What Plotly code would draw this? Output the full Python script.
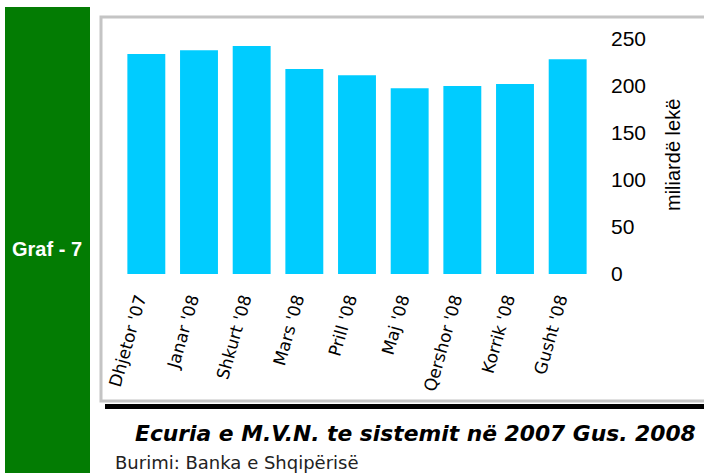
import plotly.graph_objects as go

W, H = 704, 473

months = ["Dhjetor '07", "Janar '08", "Shkurt '08", "Mars '08", "Prill '08",
          "Maj '08", "Qershor '08", "Korrik '08", "Gusht '08"]
values = [234, 238, 242.5, 218, 211.5, 197.5, 200, 202, 228.5]

y_ticks = [0, 50, 100, 150, 200, 250]

title_text = "Ecuria e M.V.N. te sistemit në 2007 Gus. 2008"
source_text = "Burimi: Banka e Shqipërisë"
side_label = "Graf - 7"
y_label = "miliardë lekë"


# pixel helpers -> paper coords (margins are zero so paper == page)
def px(x):
    return x / W


def py(y):
    return 1 - y / H


fig = go.Figure()
fig.add_trace(go.Bar(x=months, y=values, marker=dict(color="#00CCFF", line=dict(width=0))))

fig.update_layout(
    width=W, height=H, autosize=False,
    margin=dict(l=0, r=0, t=0, b=0, pad=0, autoexpand=False),
    paper_bgcolor="white", plot_bgcolor="white",
    showlegend=False,
    bargap=0.28,
    font=dict(family="Liberation Sans, Arial, sans-serif", color="black"),
    xaxis=dict(
        domain=[px(120), px(594)],
        anchor="y", automargin=False,
        showgrid=False, zeroline=False, showline=False,
        tickangle=-74,
        tickfont=dict(size=17, family="DejaVu Sans, sans-serif"),
        ticks="", ticklabelstandoff=11, ticklabelshift=-8,
    ),
    yaxis=dict(
        domain=[py(274), py(39)],
        anchor="x", automargin=False,
        side="right",
        range=[0, 250],
        tickvals=y_ticks,
        showgrid=False, zeroline=False, showline=False,
        tickfont=dict(size=21),
        ticks="", ticklabelstandoff=16,
    ),
)

# green side strip
fig.add_shape(type="rect", xref="paper", yref="paper",
              x0=px(5), x1=px(90), y0=py(473), y1=py(7),
              fillcolor="#037C03", line=dict(width=0), layer="below")
# grey frame round the chart
fig.add_shape(type="rect", xref="paper", yref="paper",
              x0=px(101), x1=px(710), y0=py(401), y1=py(17),
              fillcolor="rgba(0,0,0,0)", line=dict(color="#C4C4C4", width=3), layer="below")
# black rule under the chart
fig.add_shape(type="line", xref="paper", yref="paper",
              x0=px(105), x1=px(704), y0=py(406.5), y1=py(406.5),
              line=dict(color="black", width=5))

fig.add_annotation(text="<b>" + side_label + "</b>", xref="paper", yref="paper",
                   x=px(47), y=py(249), xanchor="center", yanchor="middle", showarrow=False,
                   font=dict(size=20, color="white"))
fig.add_annotation(text=y_label, xref="paper", yref="paper",
                   x=px(673), y=py(155), xanchor="center", yanchor="middle",
                   showarrow=False, textangle=-90,
                   font=dict(size=20))
fig.add_annotation(text="<b><i>" + title_text + "</i></b>", xref="paper", yref="paper",
                   x=px(133), y=py(433), xanchor="left", yanchor="middle", showarrow=False,
                   font=dict(size=21.8, family="DejaVu Sans, sans-serif"))
fig.add_annotation(text=source_text, xref="paper", yref="paper",
                   x=px(113), y=py(462), xanchor="left", yanchor="middle", showarrow=False,
                   font=dict(size=18, family="DejaVu Sans, sans-serif", color="#222"))

# page body has a default 8px margin; drop it so the figure sits at 0,0
fig.write_html("out.html", config={"displayModeBar": False},
               post_script="document.body.style.margin='0';")
